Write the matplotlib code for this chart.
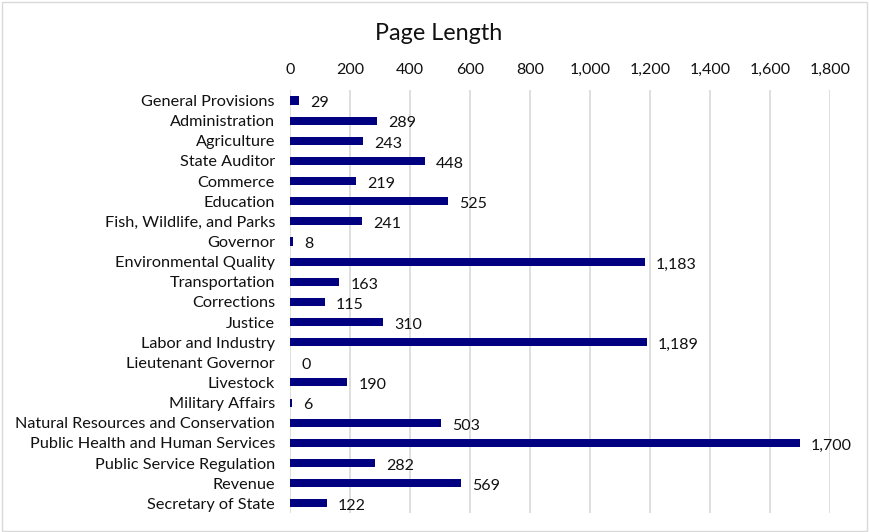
import matplotlib.pyplot as plt
from matplotlib.patches import Rectangle

categories = ["General Provisions", "Administration", "Agriculture", "State Auditor",
              "Commerce", "Education", "Fish, Wildlife, and Parks", "Governor",
              "Environmental Quality", "Transportation", "Corrections", "Justice",
              "Labor and Industry", "Lieutenant Governor", "Livestock", "Military Affairs",
              "Natural Resources and Conservation", "Public Health and Human Services",
              "Public Service Regulation", "Revenue", "Secretary of State"]
pages = [29, 289, 243, 448, 219, 525, 241, 8, 1183, 163, 115, 310,
         1189, 0, 190, 6, 503, 1700, 282, 569, 122]
xticks = list(range(0, 1801, 200))

plt.rcParams['font.family'] = ['Lato', 'DejaVu Sans']

fig = plt.figure(figsize=(8.69, 5.32), dpi=100)
ax = fig.add_axes([0.334, 0.035, 0.621, 0.795])

y = list(range(len(categories)))
ax.barh(y, pages, height=0.4, color='#000080', zorder=3)
for yi, v in zip(y, pages):
    ax.annotate(f"{v:,}", (v, yi), xytext=(8, -2), textcoords='offset points',
                va='center', ha='left', fontsize=11.5, color='#111111')

ax.set_ylim(len(categories) - 0.5, -0.5)
ax.set_xlim(0, 1800)
ax.set_yticks(y)
ax.set_yticklabels(categories, fontsize=11.7, color='#111111')
ax.set_xticks(xticks)
ax.set_xticklabels([f"{t:,}" for t in xticks], fontsize=11.5, color='#111111')
ax.xaxis.tick_top()
ax.tick_params(length=0, axis='x', pad=10)
ax.tick_params(length=0, axis='y', pad=11)
ax.grid(axis='x', color='#d9d9d9', linewidth=1.2, zorder=0)
for s in ax.spines.values():
    s.set_visible(False)

fig.text(0.505, 0.937, "Page Length", ha='center', va='center', fontsize=16.8, color='#111111')
fig.patches.append(Rectangle((0.002, 0.002), 0.996, 0.995, transform=fig.transFigure,
                             fill=False, edgecolor='#d9d9d9', linewidth=1))

fig.savefig("out.png", dpi=100)
